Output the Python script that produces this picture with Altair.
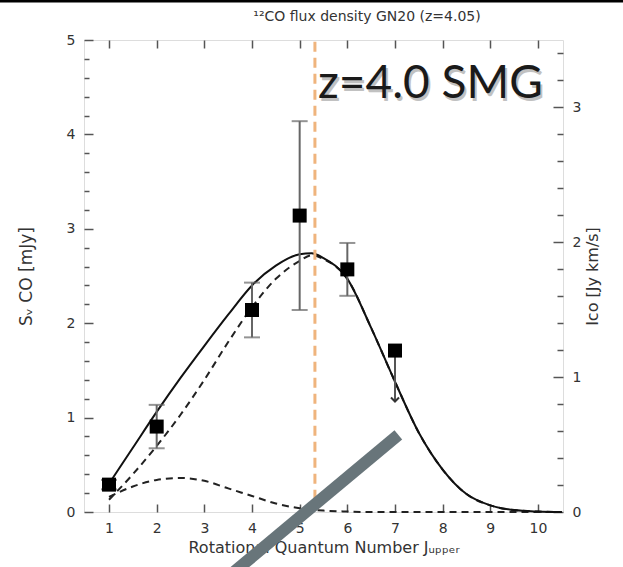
import altair as alt
import pandas as pd

# ---------------- data ----------------
J_curve = [1, 1.5, 2, 2.5, 3, 3.5, 4, 4.5, 5, 5.25, 5.5, 6, 6.5, 7, 7.5, 8, 8.5, 9, 9.5, 10, 10.5]
S_total = [0.30, 0.68, 1.06, 1.42, 1.76, 2.09, 2.40, 2.61, 2.73, 2.74, 2.69, 2.47, 1.95, 1.38, 0.84, 0.45, 0.19, 0.07, 0.02, 0.005, 0.0]
S_high  = [0.13, 0.40, 0.70, 1.03, 1.40, 1.80, 2.17, 2.47, 2.66, 2.72, 2.68, 2.47, 1.95, 1.38, 0.84, 0.45, 0.19, 0.07, 0.02, 0.005, 0.0]
S_low   = [0.16, 0.27, 0.34, 0.36, 0.33, 0.25, 0.17, 0.09, 0.04, 0.025, 0.015, 0.005, 0.0, 0.0, 0.0, 0.0, 0.0, 0.0, 0.0, 0.0, 0.0]

J_obs = [1, 2, 4, 5, 6]
S_obs = [0.29, 0.905, 2.14, 3.14, 2.57]
S_err = [0.05, 0.23, 0.29, 1.00, 0.28]

J_lim = [7]
S_lim = [1.71]
S_lim_tip = [1.17]

x_major = [1, 2, 3, 4, 5, 6, 7, 8, 9, 10]
yL_major = [0, 1, 2, 3, 4, 5]
yL_minor = [0.2, 0.4, 0.6, 0.8, 1.2, 1.4, 1.6, 1.8, 2.2, 2.4, 2.6, 2.8,
            3.2, 3.4, 3.6, 3.8, 4.2, 4.4, 4.6, 4.8]
yR_major = [0, 1, 2, 3]
yR_minor = [0.2, 0.4, 0.6, 0.8, 1.2, 1.4, 1.6, 1.8, 2.2, 2.4, 2.6, 2.8, 3.2, 3.4]

J_mark = [5.32]          # orange dashed marker line
S_mark = [0.13]
S_mark_top = [5.0]

label_J = [5.385]
label_S = [4.39]
label_txt = ["z=4.0 SMG"]

bar_J = [3.42]
bar_S = [-0.72]
bar_J2 = [7.07]
bar_S2 = [0.817]

title_txt = ["¹²CO flux density GN20 (z=4.05)"]

# ---------------- tables ----------------
curve = pd.DataFrame({"J": J_curve, "tot": S_total, "high": S_high, "low": S_low})
obs = pd.DataFrame({"J": J_obs, "S": S_obs,
                    "lo": [s - e for s, e in zip(S_obs, S_err)],
                    "hi": [s + e for s, e in zip(S_obs, S_err)]})
lim = pd.DataFrame({"J": J_lim, "S": S_lim, "tip": S_lim_tip})
mark = pd.DataFrame({"J": J_mark, "S": S_mark, "S2": S_mark_top})
label = pd.DataFrame({"J": label_J, "S": label_S, "t": label_txt})
bar = pd.DataFrame({"J": bar_J, "S": bar_S, "J2": bar_J2, "S2": bar_S2})
ttl = pd.DataFrame({"t": title_txt})

XS = alt.Scale(domain=[0.475, 10.525], nice=False, zero=False)
YS = alt.Scale(domain=[0, 5], nice=False, zero=False)
YR = alt.Scale(domain=[0, 3.5], nice=False, zero=False)

FONT = "DejaVu Sans"
TXT = "#333333"


def X(field="J", axis=None):
    return alt.X(f"{field}:Q", scale=XS, axis=axis)


def Y(field, axis=None, scale=YS):
    return alt.Y(f"{field}:Q", scale=scale, axis=axis)


base_axis = dict(domain=False, grid=False, labelFont=FONT, labelFontSize=14,
                 labelColor=TXT, tickColor="#555555", tickWidth=1.5,
                 titleFont=FONT, titleColor=TXT, titleFontWeight="normal")

# axis-only layers
ax_a = alt.Chart(curve).mark_point(opacity=0).encode(
    x=X(axis=alt.Axis(orient="bottom", values=x_major, tickSize=8, offset=-8,
                      labelPadding=9, format="d", labelFlush=False,
                      title="Rotational Quantum Number Jᵤₚₚₑᵣ", titlePadding=4,
                      titleFontSize=16, **base_axis)),
    y=Y("tot", axis=alt.Axis(orient="left", values=yL_major, tickSize=9, offset=-9,
                             labelPadding=9, format="d", labelFlush=False,
                             title="Sᵥ CO [mJy]", titlePadding=31,
                             titleFontSize=17, **base_axis)),
)
ax_b = alt.Chart(curve).mark_point(opacity=0).encode(
    x=X(axis=alt.Axis(orient="top", values=x_major, tickSize=8, offset=-8,
                      labels=False, title=None, **base_axis)),
    y=Y("tot", axis=alt.Axis(orient="left", values=yL_minor, tickSize=5, offset=-5,
                             labels=False, title=None, **base_axis)),
)
ax_c = alt.Chart(curve).mark_point(opacity=0).encode(
    x=X(),
    y=Y("low", scale=YR, axis=alt.Axis(orient="right", values=yR_major, tickSize=10,
                                       offset=-10, labelPadding=9, format="d",
                                       labelFlush=False, titleAngle=270,
                                       title="Iᴄᴏ [Jy km/s]", titlePadding=20,
                                       titleFontSize=16, **base_axis)),
)
ax_d = alt.Chart(curve).mark_point(opacity=0).encode(
    x=X(),
    y=Y("low", scale=YR, axis=alt.Axis(orient="right", values=yR_minor, tickSize=6,
                                       offset=-6, labels=False, title=None,
                                       **base_axis)),
)

# data layers
tot_line = alt.Chart(curve).mark_line(color="#111111", strokeWidth=2,
                                      interpolate="monotone").encode(x=X(), y=Y("tot"))
high_line = alt.Chart(curve).mark_line(color="#222222", strokeWidth=2,
                                       strokeDash=[7, 5],
                                       interpolate="monotone").encode(x=X(), y=Y("high"))
low_line = alt.Chart(curve).mark_line(color="#222222", strokeWidth=2,
                                      strokeDash=[7, 5],
                                      interpolate="monotone").encode(x=X(), y=Y("low"))

err = alt.Chart(obs).mark_rule(color="#666666", strokeWidth=2).encode(
    x=X(), y=Y("lo"), y2="hi:Q")
cap_hi = alt.Chart(obs).mark_tick(color="#666666", orient="horizontal", size=16,
                                  thickness=2).encode(x=X(), y=Y("hi"))
cap_lo = alt.Chart(obs).mark_tick(color="#666666", orient="horizontal", size=16,
                                  thickness=2).encode(x=X(), y=Y("lo"))
pts = alt.Chart(obs).mark_square(color="black", opacity=1, size=196).encode(
    x=X(), y=Y("S"))

lim_rule = alt.Chart(lim).mark_rule(color="#555555", strokeWidth=2).encode(
    x=X(), y=Y("S"), y2="tip:Q")
lim_head = alt.Chart(lim).mark_point(shape="M-1,-1L0,0L1,-1", size=64, filled=False,
                                     color="#333333", strokeWidth=2,
                                     opacity=1).encode(x=X(), y=Y("tip"))
lim_pt = alt.Chart(lim).mark_square(color="black", opacity=1, size=196).encode(
    x=X(), y=Y("S"))

orange = alt.Chart(mark).mark_rule(color="#EFB47D", strokeWidth=3,
                                   strokeDash=[10, 6]).encode(
    x=X(), y=Y("S"), y2="S2:Q")

gray_bar = alt.Chart(bar).mark_rule(color="#68757A", strokeWidth=12, clip=False,
                                    strokeCap="butt").encode(
    x=X(), y=Y("S"), x2="J2:Q", y2="S2:Q")

label_shadow = alt.Chart(label).mark_text(font="Lato", fontSize=46, align="left",
                                          baseline="alphabetic", color="#777777",
                                          opacity=0.45, dx=2, dy=3).encode(
    x=X(), y=Y("S"), text="t:N")
label_text = alt.Chart(label).mark_text(font="Lato", fontSize=46, align="left",
                                        baseline="alphabetic",
                                        color="#1a1a1a").encode(
    x=X(), y=Y("S"), text="t:N")

top_strip = alt.Chart(mark).mark_rule(color="black", strokeWidth=3, clip=False).encode(
    x=alt.value(-90), x2=alt.value(560), y=alt.value(-39))

title_mark = alt.Chart(ttl).mark_text(font=FONT, fontSize=14, color=TXT,
                                      align="center", baseline="alphabetic").encode(
    x=alt.value(283), y=alt.value(-19), text="t:N")

chart = alt.layer(
    ax_a, ax_b, ax_c, ax_d,
    low_line, high_line, tot_line,
    err, cap_hi, cap_lo, pts,
    lim_rule, lim_head, lim_pt,
    orange, gray_bar, label_shadow, label_text, top_strip, title_mark,
).resolve_scale(x="independent", y="independent").properties(
    width=479, height=472,
    autosize=alt.AutoSizeParams(type="none"),
    padding={"left": 84, "top": 40, "right": 60, "bottom": 55},
).configure_view(stroke="#4d4d4d", strokeWidth=2).configure(background="white")

chart.save("out.html", embed_options={"renderer": "svg", "actions": False})
